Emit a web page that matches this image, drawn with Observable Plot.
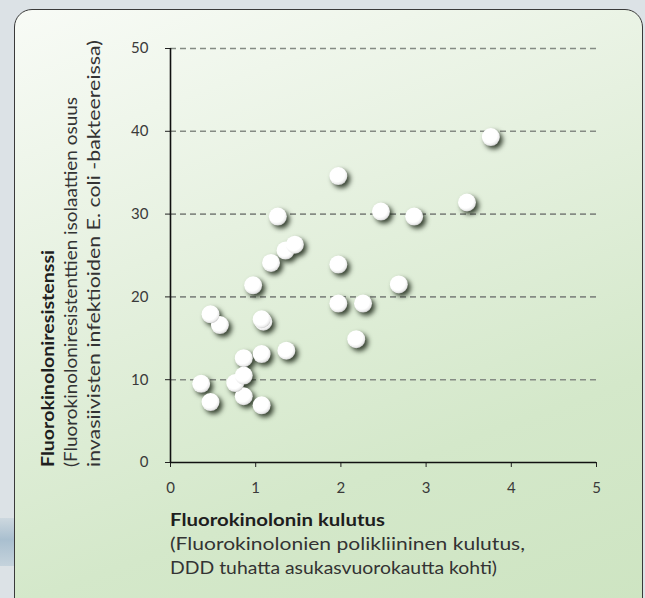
<!DOCTYPE html>
<html>
<head>
<meta charset="utf-8">
<script src="https://cdn.jsdelivr.net/npm/d3@7"></script>
<script src="https://cdn.jsdelivr.net/npm/@observablehq/plot@0.6"></script>
<style>
  html, body { margin: 0; padding: 0; }
  body { width: 645px; height: 598px; background: #dce2e6; position: relative; overflow: hidden; font-family: Lato, "Open Sans", sans-serif; }
  #strip { position: absolute; left: 0; top: 518px; width: 16px; height: 48px;
    background: linear-gradient(#cdd8df, #a9bfcf 45%, #c5d3dc); }
  #card { position: absolute; left: 14px; top: 9px; width: 627px; height: 620px;
    border: 1.5px solid #3a3a3a; border-radius: 18px;
    background: linear-gradient(160deg, #f8fbf6 0%, #e6f1e0 35%, #d4e8ca 70%, #cde4c1 100%); }
  #chart { position: absolute; left: 0; top: 0; }
</style>
</head>
<body>
<div id="strip"></div>
<div id="card"></div>
<div id="chart"></div>
<script>
// Fluoroquinolone consumption (DDD / 1000 inhabitants / day)
const consumption = [0.36, 0.47, 0.47, 0.58, 0.76, 0.86, 0.86, 0.86, 0.97, 1.07, 1.07, 1.07, 1.09, 1.18, 1.26, 1.35, 1.36, 1.46, 1.97, 1.97, 1.97, 2.18, 2.26, 2.47, 2.68, 2.86, 3.48, 3.76];
// Fluoroquinolone resistance (% of invasive E. coli isolates)
const resistance  = [9.5, 7.3, 17.9, 16.6, 9.6, 8.0, 10.5, 12.6, 21.4, 6.9, 13.1, 17.3, 17.0, 24.1, 29.7, 25.6, 13.5, 26.3, 34.6, 23.9, 19.2, 14.9, 19.2, 30.3, 21.5, 29.7, 31.4, 39.3];
const xTicks = [0, 1, 2, 3, 4, 5];
const yTicks = [0, 10, 20, 30, 40, 50];
const gridTicks = [10, 20, 30, 40, 50];
const yTitle = ["Fluorokinoloniresistenssi", "(Fluorokinoloniresistenttien isolaattien osuus", "invasiivisten infektioiden E. coli -bakteereissa)"];
const xTitle = ["Fluorokinolonin kulutus", "(Fluorokinolonien polikliininen kulutus,", "DDD tuhatta asukasvuorokautta kohti)"];

const data = consumption.map((x, i) => ({x, y: resistance[i]})).sort((a, b) => a.y - b.y);

const chart = Plot.plot({
  width: 645,
  height: 598,
  marginLeft: 170,
  marginRight: 49,
  marginTop: 48,
  marginBottom: 136,
  style: {background: "transparent", fontFamily: "Lato, 'Open Sans', sans-serif", fontSize: "15px", color: "#222", overflow: "visible"},
  x: {domain: [0, 5], ticks: xTicks, tickSize: 5, tickPadding: 15, tickFormat: d => String(d), label: null},
  y: {domain: [0, 50], ticks: yTicks, tickSize: 5, tickPadding: 17, tickFormat: d => String(d), label: null},
  marks: [
    Plot.ruleY(gridTicks, {stroke: "#858b84", strokeWidth: 1.6, strokeDasharray: "6,4"}),
    Plot.ruleY([0], {stroke: "#111", strokeWidth: 1.6}),
    Plot.ruleX([0], {stroke: "#111", strokeWidth: 1.6}),
    Plot.dot(data, {x: "x", y: "y", r: 9, fill: "white", stroke: "none"})
  ]
});
document.getElementById("chart").appendChild(chart);

const svg = d3.select(chart);
const defs = svg.insert("defs", ":first-child");
const g = defs.append("radialGradient").attr("id", "ball").attr("cx", "42%").attr("cy", "38%").attr("r", "62%");
g.append("stop").attr("offset", "0%").attr("stop-color", "#ffffff");
g.append("stop").attr("offset", "70%").attr("stop-color", "#ffffff");
g.append("stop").attr("offset", "90%").attr("stop-color", "#ececec");
g.append("stop").attr("offset", "100%").attr("stop-color", "#cfcfcf");
svg.selectAll('g[aria-label="dot"] circle').attr("fill", "url(#ball)");
svg.selectAll('g[aria-label="dot"]').style("filter", "drop-shadow(3px 3px 2.5px rgba(25,35,20,0.85))");
svg.selectAll('g[aria-label="x-axis tick label"] text, g[aria-label="y-axis tick label"] text').attr("fill", "#3a3a3a");

// Y axis title (rotated)
const yBase = [54, 77, 100];
const yLen = [217, 370, 427];
yTitle.forEach((t, i) => {
  svg.append("text")
    .attr("transform", `translate(${yBase[i]},467) rotate(-90)`)
    .attr("text-anchor", "start")
    .attr("font-family", "Lato, 'Open Sans', sans-serif")
    .attr("font-size", 16.5)
    .attr("font-weight", i === 0 ? "bold" : "normal")
    .attr("fill", i === 0 ? "#1e1e1e" : "#333")
    .attr("textLength", yLen[i])
    .attr("lengthAdjust", "spacingAndGlyphs")
    .text(t);
});
// X axis title
const xBase = [526, 550, 574];
const xLen = [215, 355, 327];
xTitle.forEach((t, i) => {
  svg.append("text")
    .attr("x", 170).attr("y", xBase[i])
    .attr("text-anchor", "start")
    .attr("font-family", "Lato, 'Open Sans', sans-serif")
    .attr("font-size", 16.5)
    .attr("font-weight", i === 0 ? "bold" : "normal")
    .attr("fill", i === 0 ? "#1e1e1e" : "#333")
    .attr("textLength", xLen[i])
    .attr("lengthAdjust", "spacingAndGlyphs")
    .text(t);
});
</script>
</body>
</html>
